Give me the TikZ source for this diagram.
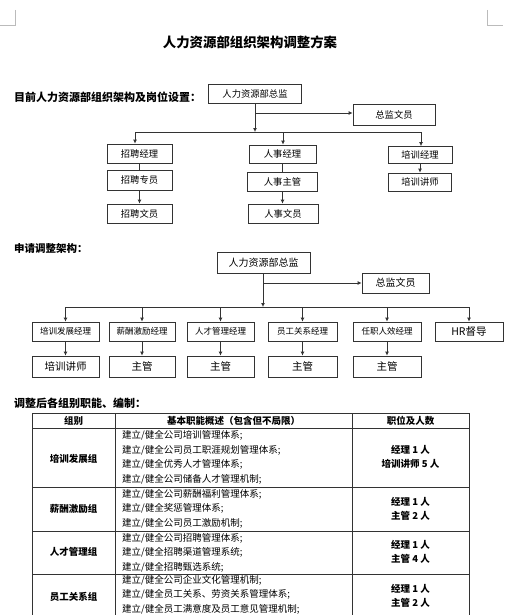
\documentclass[tikz,border=0pt]{standalone}
\usepackage{fontspec}
\setmainfont{Noto Sans CJK SC}
\usetikzlibrary{arrows.meta}
\definecolor{linec}{HTML}{333333}
\definecolor{markc}{HTML}{BBBBBB}
\tikzset{
  box/.style={draw=linec, line width=0.8pt, inner sep=0pt, align=center},
  boxa/.style={box, font=\fontsize{9.3}{10}\selectfont},
  boxb/.style={box, font=\fontsize{8.5}{10}\selectfont},
  boxc/.style={box, font=\fontsize{10}{12}\selectfont},
  boxd/.style={box, font=\fontsize{10.5}{12}\selectfont},
  conn/.style={draw=linec, line width=0.8pt},
  arr/.style={conn, -{Latex[length=4pt,width=4pt]}},
  tline/.style={draw=linec, line width=0.8pt},
  cell/.style={inner sep=0pt, align=left, font=\fontsize{9.5}{14.6}\selectfont},
  cellb/.style={inner sep=0pt, align=center, font=\bfseries\fontsize{9.5}{14}\selectfont},
  head/.style={inner sep=0pt, anchor=west, font=\bfseries\fontsize{11}{13}\selectfont},
}
\begin{document}
\begin{tikzpicture}[x=1pt,y=-1pt]
\useasboundingbox (0,0) rectangle (521,615);
% corner marks
\draw[markc, line width=0.6pt] (15,10) -- (15,25) -- (0,25);
\draw[markc, line width=0.6pt] (487,10) -- (487,25) -- (503,25);
% title
\node[inner sep=0pt, font=\bfseries\fontsize{13.4}{15}\selectfont] (title) at (250,42) {人力资源部组织架构调整方案};
% ---------- section 1
\node[head] (h1) at (14,97) {目前人力资源部组织架构及岗位设置：};
\node[boxa, minimum width=93pt, minimum height=19pt] (d1) at (255,93.5) {人力资源部总监};
\node[boxa, minimum width=82pt, minimum height=21pt] (c1) at (394,114.5) {总监文员};
\node[boxa, minimum width=65pt, minimum height=19pt] (zp1) at (139.5,153.5) {招聘经理};
\node[boxa, minimum width=65pt, minimum height=20pt] (zp2) at (139.5,180) {招聘专员};
\node[boxa, minimum width=65pt, minimum height=19pt] (zp3) at (139.5,213.5) {招聘文员};
\node[boxa, minimum width=67pt, minimum height=18pt] (rs1) at (282.5,154) {人事经理};
\node[boxa, minimum width=70pt, minimum height=19pt] (rs2) at (282.5,181.5) {人事主管};
\node[boxa, minimum width=70pt, minimum height=19pt] (rs3) at (283,213.5) {人事文员};
\node[boxa, minimum width=64pt, minimum height=17pt] (px1) at (420,155) {培训经理};
\node[boxa, minimum width=63pt, minimum height=18pt] (px2) at (420,182) {培训讲师};
\coordinate (br1) at (255,113);
\coordinate (bL1) at (135,132);
\coordinate (bM1) at (283,132);
\coordinate (bR1) at (421,132);
\draw[arr] (d1.south) -- (d1.south |- bL1);
\draw[arr] (br1) -- (br1 -| c1.west);
\draw[conn] (bL1) -- (bR1);
\draw[arr] (bL1) -- (bL1 |- zp1.north);
\draw[arr] (bM1) -- (bM1 |- rs1.north);
\draw[arr] (bR1) -- (bR1 |- px1.north);
\draw[conn] (zp1) -- (zp2);
\draw[arr] (zp2) -- (zp3);
\draw[conn] (rs1) -- (rs2);
\draw[arr] (rs2.south) -- (rs2.south |- rs3.north);
\draw[arr] (px1) -- (px2);
% ---------- section 2
\node[head, font=\bfseries\fontsize{10.5}{12}\selectfont] (h2) at (14,249) {申请调整架构：};
\node[boxc, minimum width=93pt, minimum height=21pt] (d2) at (263.5,262.5) {人力资源部总监};
\node[boxc, minimum width=67pt, minimum height=20pt] (c2) at (395.5,283) {总监文员};
\coordinate (br2) at (263,283);
\coordinate (bL2) at (65.5,307);
\coordinate (bR2) at (469,307);
\draw[arr] (br2 |- d2.south) -- (br2 |- bL2);
\draw[arr] (br2) -- (c2.west);
\draw[conn] (bL2) -- (bR2);
\node[boxb, minimum width=67pt, minimum height=19pt] (m1) at (65.5,331.5) {培训发展经理};
\node[boxb, minimum width=66pt, minimum height=19pt] (m2) at (142,331.5) {薪酬激励经理};
\node[boxb, minimum width=67pt, minimum height=19pt] (m3) at (220.5,331.5) {人才管理经理};
\node[boxb, minimum width=69pt, minimum height=19pt] (m4) at (302.5,331.5) {员工关系经理};
\node[boxb, minimum width=68pt, minimum height=19pt] (m5) at (387,331.5) {任职人效经理};
\node[boxd, minimum width=68pt, minimum height=19pt] (m6) at (469,331.5) {HR督导};
\node[boxd, minimum width=67pt, minimum height=21pt] (s1) at (65.5,366.5) {培训讲师};
\node[boxd, minimum width=66pt, minimum height=21pt] (s2) at (142,366.5) {主管};
\node[boxd, minimum width=67pt, minimum height=21pt] (s3) at (220.5,366.5) {主管};
\node[boxd, minimum width=69pt, minimum height=21pt] (s4) at (302.5,366.5) {主管};
\node[boxd, minimum width=68pt, minimum height=21pt] (s5) at (387,366.5) {主管};
\foreach \m in {m1,m2,m3,m4,m5,m6} {\draw[arr] (\m.north |- bL2) -- (\m.north);}
\foreach \m/\s in {m1/s1,m2/s2,m3/s3,m4/s4,m5/s5} {\draw[arr] (\m) -- (\s);}
% ---------- section 3 table
\node[head] (h3) at (14,403) {调整后各组别职能、编制：};
\draw[tline] (32,413) -- (469,413);
\draw[tline] (32,428) -- (469,428);
\draw[tline] (32,487) -- (469,487);
\draw[tline] (32,531) -- (469,531);
\draw[tline] (32,574) -- (469,574);
\draw[tline] (32,413) -- (32,615);
\draw[tline] (115,413) -- (115,615);
\draw[tline] (352,413) -- (352,615);
\draw[tline] (469,413) -- (469,615);
\node[cellb] (th1) at (73.5,420.5) {组别};
\node[cellb] (th2) at (233.5,420.5) {基本职能概述（包含但不局限）};
\node[cellb] (th3) at (410.5,420.5) {职位及人数};
% row 1
\node[cellb] (g1) at (73.5,459) {培训发展组};
\node[cell, anchor=west] (f1) at (122,457.5) {建立/健全公司培训管理体系;\\建立/健全公司员工职涯规划管理体系;\\建立/健全优秀人才管理体系;\\建立/健全公司储备人才管理机制;};
\node[cellb] (n1) at (410.5,456.5) {经理 1 人\\培训讲师 5 人};
% row 2
\node[cellb] (g2) at (73.5,509) {薪酬激励组};
\node[cell, anchor=west] (f2) at (122,508.5) {建立/健全公司薪酬福利管理体系;\\建立/健全奖惩管理体系;\\建立/健全公司员工激励机制;};
\node[cellb] (n2) at (410.5,509) {经理 1 人\\主管 2 人};
% row 3
\node[cellb] (g3) at (73.5,552) {人才管理组};
\node[cell, anchor=west] (f3) at (122,552.5) {建立/健全公司招聘管理体系;\\建立/健全招聘渠道管理系统;\\建立/健全招聘甄选系统;};
\node[cellb] (n3) at (410.5,551.5) {经理 1 人\\主管 4 人};
% row 4
\node[cellb] (g4) at (73.5,597) {员工关系组};
\node[cell, anchor=west] (f4) at (122,594.5) {建立/健全公司企业文化管理机制;\\建立/健全员工关系、劳资关系管理体系;\\建立/健全员工满意度及员工意见管理机制;};
\node[cellb] (n4) at (410.5,596) {经理 1 人\\主管 2 人};
\end{tikzpicture}
\end{document}
